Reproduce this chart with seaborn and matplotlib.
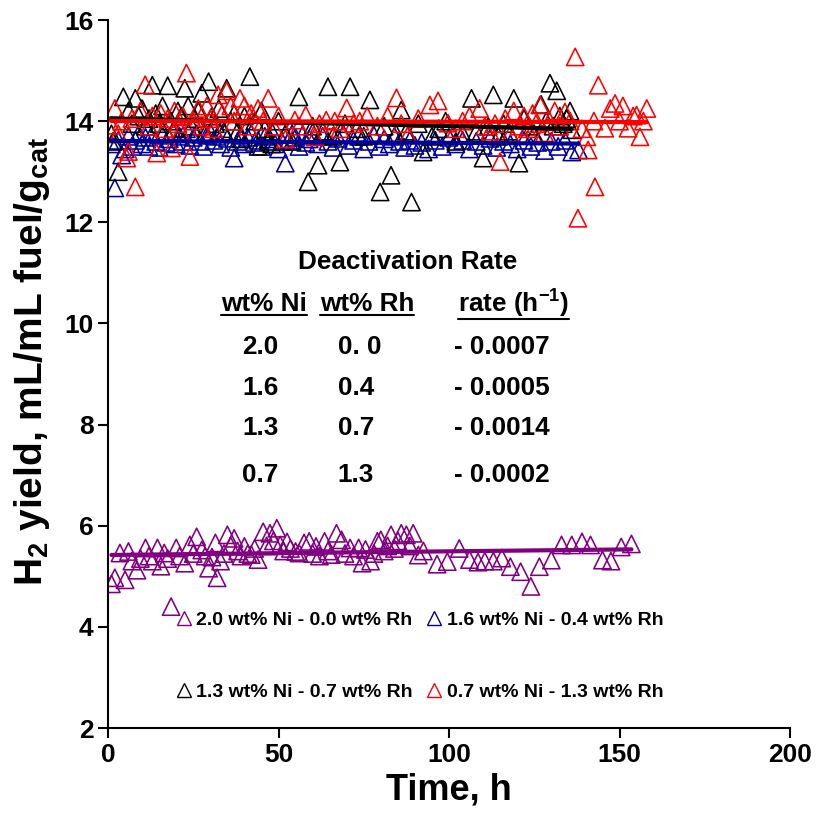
"""
H2 yield vs time for Ni-Rh catalysts, with linear trend lines and deactivation rate table
"""

import matplotlib
matplotlib.use('Agg')
import matplotlib.pyplot as plt
from matplotlib.lines import Line2D
import seaborn as sns

# 2.0 wt% Ni - 0.0 wt% Rh
pur_x = [1, 2, 3.5, 5, 6, 7, 8.5, 9.5, 11, 12,
         13, 14.5, 15.5, 16.5, 17.5, 18.5, 20, 21, 22.5, 24,
         25, 26, 27.5, 28.5, 29.5, 30.5, 31.5, 32, 33, 34,
         35, 36, 37, 38, 39, 40, 41, 42, 43, 44,
         45.5, 46.5, 47.5, 48.5, 49.5, 50.5, 51.5, 52.5, 53.5, 55,
         56, 57.5, 59, 60, 61, 62, 63.5, 64.5, 65.5, 67,
         68.5, 69.5, 71, 72, 73.5, 74.5, 75.5, 77, 78, 79,
         80, 81, 82, 83, 84, 85, 86, 87.5, 88.5, 89.5,
         91, 92.5, 96.5, 99.5, 103, 106, 108.5, 110.5, 113, 115.5,
         118, 121, 124, 126.5, 130, 133, 136, 139, 141.5, 145,
         147.5, 150.5, 153.5]
pur_y = [4.85, 4.97, 5.46, 4.93, 5.49, 5.3, 5.12, 5.35, 5.56, 5.4,
         5.3, 5.56, 5.2, 5.46, 5.35, 4.4, 5.56, 5.4, 5.26, 5.62,
         5.45, 5.78, 5.52, 5.4, 5.16, 5.38, 5.66, 4.97, 5.3, 5.45,
         5.82, 5.6, 5.75, 5.5, 5.4, 5.59, 5.45, 5.43, 5.55, 5.33,
         5.88, 5.6, 5.85, 5.7, 5.95, 5.62, 5.5, 5.68, 5.55, 5.49,
         5.46, 5.66, 5.69, 5.45, 5.59, 5.4, 5.69, 5.5, 5.43, 5.85,
         5.72, 5.45, 5.56, 5.4, 5.56, 5.26, 5.53, 5.3, 5.45, 5.69,
         5.72, 5.5, 5.6, 5.82, 5.55, 5.7, 5.85, 5.82, 5.6, 5.85,
         5.42, 5.5, 5.24, 5.29, 5.55, 5.33, 5.28, 5.3, 5.3, 5.36,
         5.19, 5.09, 4.8, 5.19, 5.32, 5.62, 5.62, 5.68, 5.62, 5.32,
         5.3, 5.58, 5.64]

# 1.6 wt% Ni - 0.4 wt% Rh
blu_x = [1, 2, 3, 4, 5, 6, 7, 8, 9, 10,
         11, 12, 13, 14, 15, 16, 17, 18, 19, 20,
         21, 22, 23, 24, 25, 26, 27, 28, 29, 30,
         31, 32, 33, 34, 35, 36, 37, 38, 39, 40,
         41, 42, 43, 44, 45, 46, 47, 48, 49, 50,
         51, 52, 53, 54, 55, 56, 57, 58, 59, 60,
         61.5, 63, 64.5, 66, 67.5, 69, 70.5, 72, 73.5, 75,
         76.5, 78, 79.5, 81, 82.5, 84, 85.5, 87, 88.5, 90,
         92, 94, 96, 98, 100, 102, 104, 106, 108, 110,
         112, 114, 116, 118, 120, 122, 124, 126, 128, 130,
         132, 134, 136, 138]
blu_y = [13.55, 12.68, 13.62, 13.33, 13.45, 13.7, 13.5, 13.62, 13.75, 13.55,
         13.68, 13.5, 13.75, 13.6, 13.48, 13.72, 13.58, 13.65, 13.8, 13.55,
         13.7, 13.6, 13.85, 13.52, 13.68, 13.75, 13.6, 13.5, 13.72, 13.78,
         13.62, 13.7, 13.55, 13.8, 13.66, 13.48, 13.27, 13.6, 13.72, 13.55,
         13.68, 13.75, 13.58, 13.62, 13.5, 13.7, 13.65, 13.8, 13.55, 13.45,
         13.6, 13.17, 13.62, 13.75, 13.68, 13.5, 13.72, 13.58, 13.65, 13.78,
         13.55, 13.7, 13.6, 13.48, 13.66, 13.75, 13.52, 13.62, 13.7, 13.45,
         13.6, 13.72, 13.5, 13.65, 13.55, 13.7, 13.6, 13.48, 13.62, 13.52,
         13.58, 13.45, 13.62, 13.5, 13.68, 13.55, 13.62, 13.45, 13.6, 13.52,
         13.66, 13.48, 13.6, 13.55, 13.45, 13.62, 13.5, 13.58, 13.42, 13.6,
         13.5, 13.62, 13.39, 13.43]

# 1.3 wt% Ni - 0.7 wt% Rh
blk_x = [1, 1.5, 3, 4.5, 6, 7, 8, 9, 10, 11,
         12, 13, 14, 15, 16, 17.5, 18.5, 19.5, 20.5, 21.5,
         22.5, 23.5, 24.5, 25.5, 26.5, 27.5, 28.5, 29.5, 30.5, 31.5,
         32.5, 33.5, 34.8, 36, 37, 38, 39, 40, 41.6, 43,
         44, 45, 46, 47, 48, 50, 52, 54, 56, 58.7,
         60, 61.6, 63, 64.5, 66, 68, 69.5, 71, 73, 75,
         76.8, 79.8, 81, 83, 84.5, 86, 87.5, 89, 91, 92.4,
         95, 97, 99, 102, 104, 106.6, 108, 110, 111.5, 113,
         114.5, 116, 117.5, 119, 120.5, 122, 123.5, 125, 127, 128.5,
         129.6, 130.5, 131.6, 132.5, 133.5, 134.5, 135.5, 136]
blk_y = [13.75, 13.6, 13.0, 14.48, 14.2, 13.95, 14.45, 14.1, 14.25, 13.9,
         14.05, 14.71, 14.15, 13.95, 14.3, 14.7, 14.0, 13.85, 14.2, 14.1,
         14.65, 14.3, 13.9, 14.05, 14.2, 14.55, 13.75, 14.78, 14.1, 13.95,
         14.25, 13.85, 14.65, 14.0, 14.15, 13.8, 13.65, 14.1, 14.88, 14.0,
         13.5, 14.2, 13.85, 13.6, 13.55, 14.0, 13.75, 13.6, 14.48, 12.8,
         13.9, 13.13, 13.8, 14.68, 13.7, 13.19, 13.95, 14.68, 13.85, 13.7,
         14.42, 12.6, 13.9, 12.93, 13.75, 14.22, 13.8, 12.4, 13.95, 13.39,
         13.7, 13.85, 14.0, 13.6, 13.75, 14.45, 13.8, 13.27, 13.9, 14.52,
         13.7, 13.95, 13.8, 14.45, 13.17, 14.05, 13.9, 13.75, 14.33, 14.0,
         14.75, 13.9, 14.6, 14.1, 13.95, 14.05, 14.2, 13.83]

# 0.7 wt% Ni - 1.3 wt% Rh
red_x = [1, 2, 3, 4, 5.5, 6, 7, 8, 9.5, 10.9,
         12, 13, 14.3, 15.5, 16.5, 17.5, 18.6, 19.5, 20.5, 21.3,
         22, 23, 24, 25, 26.5, 27.5, 29, 30, 31, 32.3,
         33.5, 34.8, 36, 37, 38.7, 40, 41, 42, 44, 45.5,
         47, 48.5, 50, 52, 54.8, 56, 58, 60.7, 62, 64,
         66.5, 68, 70, 72, 73.8, 76, 79, 82, 84.6, 86,
         88, 91, 94.4, 96.8, 99.7, 102, 104, 106, 109, 110.5,
         112, 113.5, 115, 116.5, 118, 119, 120.5, 122, 123, 124.5,
         125.5, 126.7, 128, 129.5, 131, 132.5, 134, 135.5, 137, 137.8,
         139, 140.4, 140.8, 142.5, 142.8, 143.8, 145.7, 147.3, 148.7, 150,
         151, 152.5, 154, 155, 156, 157, 158]
red_y = [13.92, 14.25, 13.75, 14.0, 13.27, 13.4, 14.05, 12.7, 14.2, 14.72,
         13.9, 14.1, 13.37, 14.15, 13.85, 14.05, 13.47, 14.2, 13.95, 13.8,
         14.1, 14.95, 13.3, 14.0, 14.25, 13.9, 14.3, 14.05, 13.85, 14.52,
         14.15, 14.6, 14.3, 14.0, 14.45, 14.3, 13.9, 14.15, 14.25, 14.0,
         14.45, 13.9, 14.1, 13.65, 14.02, 13.9, 14.12, 13.69, 13.95, 14.02,
         14.0, 13.85, 14.26, 13.95, 14.0, 14.1, 13.9, 14.1, 14.46, 13.95,
         13.73, 14.05, 14.32, 14.4, 13.96, 13.85, 14.0, 14.1, 14.25, 13.9,
         13.8, 13.95, 13.2, 14.05, 13.75, 14.2, 13.9, 14.1, 13.85, 14.15,
         13.95, 14.32, 13.77, 14.0, 14.2, 13.9, 14.18, 14.0, 15.27, 12.08,
         13.85, 13.69, 13.43, 14.0, 12.7, 14.71, 13.86, 14.25, 14.35, 14.0,
         14.3, 13.86, 14.1, 14.12, 13.69, 14.0, 14.25]

series_labels = ['2.0 wt% Ni - 0.0 wt% Rh', '1.6 wt% Ni - 0.4 wt% Rh',
                 '1.3 wt% Ni - 0.7 wt% Rh', '0.7 wt% Ni - 1.3 wt% Rh']
series_colors = ['#800080', '#000099', '#000000', '#FF0000']

# deactivation rate table
ni_pct = ['2.0', '1.6', '1.3', '0.7']
rh_pct = ['0. 0', '0.4', '0.7', '1.3']
rates = ['- 0.0007', '- 0.0005', '- 0.0014', '- 0.0002']

x_ticks = [0, 50, 100, 150, 200]
y_ticks = [2, 4, 6, 8, 10, 12, 14, 16]

sns.set_style('ticks')
plt.rcParams['font.family'] = ['Liberation Sans', 'DejaVu Sans']
plt.rcParams['font.weight'] = 'bold'
plt.rcParams['mathtext.fontset'] = 'custom'
plt.rcParams['mathtext.rm'] = 'Liberation Sans:bold'
plt.rcParams['mathtext.it'] = 'Liberation Sans:bold'
plt.rcParams['mathtext.bf'] = 'Liberation Sans:bold'
for k in ['text.color', 'axes.labelcolor', 'xtick.color', 'ytick.color', 'axes.edgecolor']:
    plt.rcParams[k] = 'black'

fig = plt.figure(figsize=(8.16, 8.32), dpi=100)
ax = fig.add_axes([108 / 816, 104 / 832, 682 / 816, 708 / 832])

data = [(pur_x, pur_y), (blu_x, blu_y), (blk_x, blk_y), (red_x, red_y)]
for (xs, ys), c in zip(data, series_colors):
    sns.scatterplot(x=xs, y=ys, ax=ax, marker='^', s=155, color=c,
                    facecolor='none', edgecolor=c, linewidth=1.15, zorder=2)
for (xs, ys), c in zip(data, series_colors):
    sns.regplot(x=xs, y=ys, ax=ax, scatter=False, ci=None, color=c,
                line_kws={'lw': 3, 'zorder': 3})

ax.set_xlim(0, 200)
ax.set_ylim(2, 16)
ax.set_xticks(x_ticks)
ax.set_yticks(y_ticks)
ax.tick_params(labelsize=19, width=1.5, length=7, direction='out')
for lab in ax.get_xticklabels() + ax.get_yticklabels():
    lab.set_fontweight('bold')
for s in ['left', 'bottom']:
    ax.spines[s].set_linewidth(1.5)
sns.despine(ax=ax)

ax.set_xlabel('Time, h', fontsize=26, fontweight='bold', labelpad=4)
ax.set_ylabel(r'H$_2$ yield, mL/mL fuel/g$_{\rm cat}$', fontsize=28,
              fontweight='bold')
ax.yaxis.set_label_coords(-0.082, 0.518)

# rate table
fs = 18.8
tkw = dict(ha='center', va='center', fontsize=fs, fontweight='bold')
ax.text(88, 11.21, 'Deactivation Rate', **tkw)
heads = [ax.text(45.8, 10.38, 'wt% Ni', **tkw),
         ax.text(76.0, 10.38, 'wt% Rh', **tkw),
         ax.text(118.8, 10.38, r'rate (h$^{-1}$)', **tkw)]
row_y = [9.53, 8.73, 7.94, 7.01]
for ni, rh, r, yy in zip(ni_pct, rh_pct, rates, row_y):
    ax.text(44.6, yy, ni, **tkw)
    ax.text(67.4, yy, rh, ha='left', va='center', fontsize=fs, fontweight='bold')
    ax.text(115.5, yy, r, **tkw)

# underline the header cells
fig.canvas.draw()
renderer = fig.canvas.get_renderer()
W, H = fig.bbox.width, fig.bbox.height
for t in heads:
    bb = t.get_window_extent(renderer)
    fig.add_artist(Line2D([bb.x0 / W, bb.x1 / W], [(bb.y0 + 1) / H, (bb.y0 + 1) / H],
                          transform=fig.transFigure, color='black', lw=1.5))

handles = [Line2D([], [], marker='^', ls='none', mfc='none', mec=c, ms=10, mew=1)
           for c in series_colors]
order = [0, 2, 1, 3]
leg = ax.legend([handles[i] for i in order], [series_labels[i] for i in order],
                ncol=2, frameon=False, loc='upper left',
                bbox_to_anchor=(176 / 816, 1 - 611 / 832), bbox_transform=fig.transFigure,
                prop={'size': 14, 'weight': 'bold'}, handlelength=0.8, handletextpad=0.25,
                columnspacing=0.7, labelspacing=2.8, borderpad=0, borderaxespad=0)

fig.savefig('out.png', dpi=100)
plt.close(fig)
